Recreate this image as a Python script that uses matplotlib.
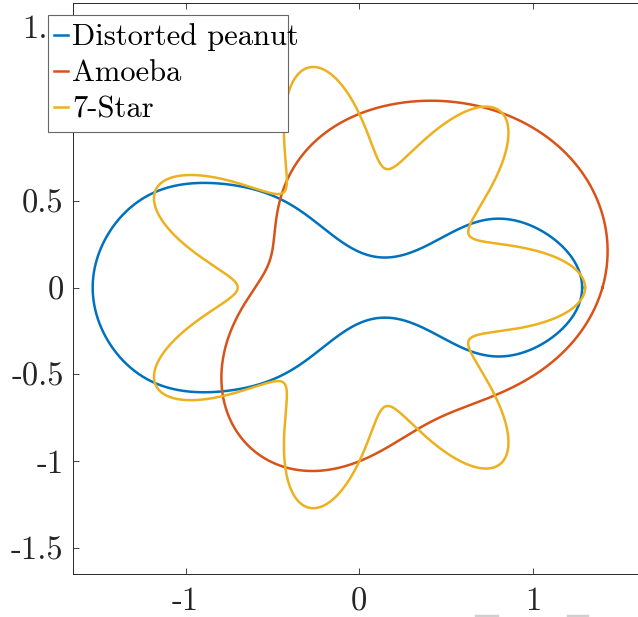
import numpy as np
import matplotlib
matplotlib.use('Agg')
import matplotlib.pyplot as plt
from matplotlib.patches import Rectangle

plt.rcParams['font.family'] = ['cmr10']
plt.rcParams['mathtext.fontset'] = 'cm'
plt.rcParams['axes.unicode_minus'] = False
plt.rcParams['axes.formatter.use_mathtext'] = True

# curve names and MATLAB default colours
labels = ['Distorted peanut', 'Amoeba', '7-Star']
colors = ['#0072BD', '#D95319', '#EDB120']

# distorted peanut: x(t) = sum a_k cos(kt), y(t) = sum b_k sin(kt), k from 0 / 1
peanut_x_coef = [-0.175, 1.266, 0.016, 0.122, 0.019, 0.014, 0.012, 0.007, 0.002]
peanut_y_coef = [0.488, -0.138, 0.188, 0.078, 0.013, -0.017, -0.010, 0.004]

# amoeba: r(th) = r0 + sum c_k cos(k th) + s_k sin(k th)
amoeba_r0 = 1.0
amoeba_cos = [0.3, 0.0, 0.1]
amoeba_sin = [0.0, 0.2, 0.0]

# 7-star: r(th) = r0 + amp * cos(7 th)
star_r0 = 1.0
star_amp = 0.3
star_points = 7

xticks = [-1, 0, 1]
xticklabels = ['-1', '0', '1']
yticks = [-1.5, -1, -0.5, 0, 0.5, 1, 1.5]
yticklabels = ['-1.5', '-1', '-0.5', '0', '0.5', '1', '1.5']

t = np.linspace(0, 2 * np.pi, 2000)

# peanut
kx = np.arange(len(peanut_x_coef))
ky = np.arange(1, len(peanut_y_coef) + 1)
pea_x = np.cos(np.outer(t, kx)) @ np.array(peanut_x_coef)
pea_y = np.sin(np.outer(t, ky)) @ np.array(peanut_y_coef)

# amoeba
ka = np.arange(1, len(amoeba_cos) + 1)
r_amo = amoeba_r0 + np.cos(np.outer(t, ka)) @ np.array(amoeba_cos) + np.sin(np.outer(t, ka)) @ np.array(amoeba_sin)
amo_x = r_amo * np.cos(t)
amo_y = r_amo * np.sin(t)

# star
r_star = star_r0 + star_amp * np.cos(star_points * t)
star_x = r_star * np.cos(t)
star_y = r_star * np.sin(t)

fig = plt.figure(figsize=(6.38, 6.17), dpi=100)
ax = fig.add_axes([0.11395, 0.06937, 0.89843, 0.92626])

lw = 1.8
ax.plot(pea_x, pea_y, color=colors[0], lw=lw, label=labels[0])
ax.plot(amo_x, amo_y, color=colors[1], lw=lw, label=labels[1])
ax.plot(star_x, star_y, color=colors[2], lw=lw, label=labels[2])

ax.set_xlim(-1.65, 1.65)
ax.set_ylim(-1.65, 1.64)
ax.set_xticks(xticks)
ax.set_xticklabels(xticklabels)
ax.set_yticks(yticks)
ax.set_yticklabels(yticklabels)
ax.tick_params(direction='in', length=4.3, width=0.6, colors='#262626',
               labelsize=23.5, top=True, right=True)
ax.tick_params(axis='x', pad=9.5)
ax.tick_params(axis='y', pad=6.5)
for sp in ax.spines.values():
    sp.set_color('#262626')
    sp.set_linewidth(0.7)

# legend box (text runs slightly past the frame, as in the original)
box = Rectangle((48.3 / 638, 1 - 132.3 / 617), 240 / 638, 117.6 / 617,
                transform=fig.transFigure, facecolor='white', edgecolor='#666666',
                lw=0.8, clip_on=False, zorder=4.5)
ax.add_patch(box)
leg = ax.legend(loc='upper left', bbox_to_anchor=(44.8 / 638, 1 - 14.7 / 617),
                bbox_transform=fig.transFigure, borderaxespad=0, frameon=False,
                fontsize=22, handlelength=0.46, handletextpad=0.15,
                borderpad=0.29, labelspacing=0.28)
leg.set_zorder(5)

# faint marks at the bottom edge
fig.add_artist(plt.Line2D([476 / 638, 497 / 638], [1.5 / 617, 1.5 / 617], color='#d0d0d0', lw=2.5))
fig.add_artist(plt.Line2D([568 / 638, 587 / 638], [1.5 / 617, 1.5 / 617], color='#d0d0d0', lw=2.5))

fig.savefig('out.png')
